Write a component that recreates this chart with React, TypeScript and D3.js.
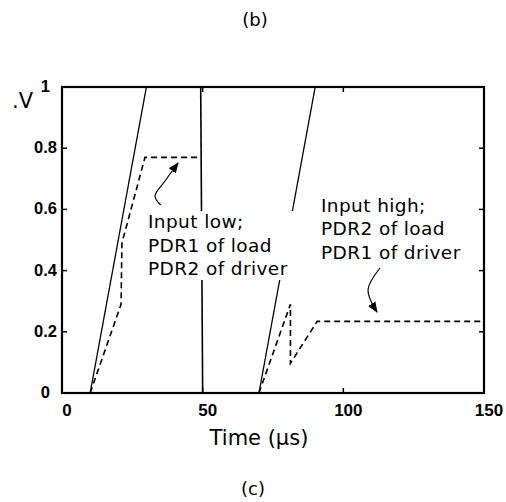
import React from 'react';
import * as d3 from 'd3';

// solid traces (input voltage), dashed traces (pdr response)
const solidLow = [[10, 0], [30, 1]];
const solidFall = [[49.3, 1], [50, 0]];
const solidHigh = [[70, 0], [90, 1]];
const dashedLow = [[10, 0], [21, 0.29], [21.3, 0.49], [29.5, 0.77], [49.5, 0.77]];
const dashedHigh = [[70, 0], [81.2, 0.29], [81.2, 0.097], [90.7, 0.234], [150, 0.234]];

const xTicks = [0, 50, 100, 150];
const yTicks = [0, 0.2, 0.4, 0.6, 0.8, 1];
const lowText = ['Input low;', 'PDR1 of load', 'PDR2 of driver'];
const highText = ['Input high;', 'PDR2 of load', 'PDR1 of driver'];

const W = 506;
const H = 502;
const left = 62, right = 484, top = 87, bottom = 393;

const App = () => {
  const x = d3.scaleLinear().domain([0, 150]).range([left, right]);
  const y = d3.scaleLinear().domain([0, 1]).range([bottom, top]);
  const line = d3.line<number[]>().x((d) => x(d[0])).y((d) => y(d[1]));
  const curve = d3.line<number[]>().curve(d3.curveCatmullRom);

  const txt = "'DejaVu Sans', sans-serif";
  const num = "'Liberation Sans', Arial, sans-serif";

  return (
    <svg width={W} height={H} style={{ position: 'absolute', left: 0, top: 0, background: '#fff' }}>
      <defs>
        <clipPath id="plot">
          <rect x={left} y={top} width={right - left} height={bottom - top} />
        </clipPath>
        <marker id="head" viewBox="0 0 10 10" refX="9" refY="5" markerWidth="9" markerHeight="9" orient="auto">
          <path d="M0,1 L10,5 L0,9 z" fill="#000" />
        </marker>
      </defs>

      <text x={255} y={26} textAnchor="middle" fontFamily={txt} fontSize={18}>(b)</text>

      <g clipPath="url(#plot)" fill="none" stroke="#000">
        <path d={line(solidLow) || ''} strokeWidth={1.3} />
        <path d={line(solidFall) || ''} strokeWidth={1.6} />
        <path d={line(solidHigh) || ''} strokeWidth={1.3} />
        <path d={line(dashedLow) || ''} strokeWidth={1.6} strokeDasharray="6,4" />
        <path d={line(dashedHigh) || ''} strokeWidth={1.6} strokeDasharray="6,4" />
      </g>

      {/* frame */}
      <rect x={left} y={top} width={right - left} height={bottom - top} fill="none" stroke="#000" strokeWidth={2.2} />
      {xTicks.slice(1, -1).map((t) => (
        <g key={'xt' + t} stroke="#000" strokeWidth={1.5}>
          <line x1={x(t)} x2={x(t)} y1={bottom} y2={bottom - 5} />
          <line x1={x(t)} x2={x(t)} y1={top} y2={top + 5} />
        </g>
      ))}
      {yTicks.slice(1, -1).map((t) => (
        <g key={'yt' + t} stroke="#000" strokeWidth={1.5}>
          <line x1={left} x2={left + 5} y1={y(t)} y2={y(t)} />
          <line x1={right} x2={right - 5} y1={y(t)} y2={y(t)} />
        </g>
      ))}
      {xTicks.map((t) => (
        <text key={'xl' + t} x={x(t) + 5} y={416} textAnchor="middle" fontFamily={num} fontWeight="bold" fontSize={17}>
          {t}
        </text>
      ))}
      {yTicks.map((t) => (
        <text key={'yl' + t} x={Number.isInteger(t) ? 50 : 57} y={y(t) + 5} textAnchor="end" fontFamily={num} fontWeight="bold" fontSize={16.5}>
          {t}
        </text>
      ))}

      <text x={12} y={108} fontFamily={txt} fontSize={21}>.V</text>
      <text x={259} y={445} textAnchor="middle" fontFamily={txt} fontSize={21}>Time (µs)</text>

      {/* annotations */}
      <rect x={146} y={211} width={148} height={69} fill="#fff" />
      {lowText.map((s, i) => (
        <text key={'lo' + i} x={148} y={228 + i * 23.5} fontFamily={txt} fontSize={18.5} letterSpacing={0.4}>{s}</text>
      ))}
      {highText.map((s, i) => (
        <text key={'hi' + i} x={321} y={212 + i * 23.3} fontFamily={txt} fontSize={18.5} letterSpacing={0.4}>{s}</text>
      ))}
      <path d={curve([[160.7, 205], [155, 196], [165, 181], [178, 163]]) || ''} fill="none" stroke="#000" strokeWidth={1.2} markerEnd="url(#head)" />
      <path d={curve([[380, 268], [368, 290], [377, 312]]) || ''} fill="none" stroke="#000" strokeWidth={1.2} markerEnd="url(#head)" />

      <text x={253} y={495} textAnchor="middle" fontFamily={txt} fontSize={18}>(c)</text>
    </svg>
  );
};

export default App;
